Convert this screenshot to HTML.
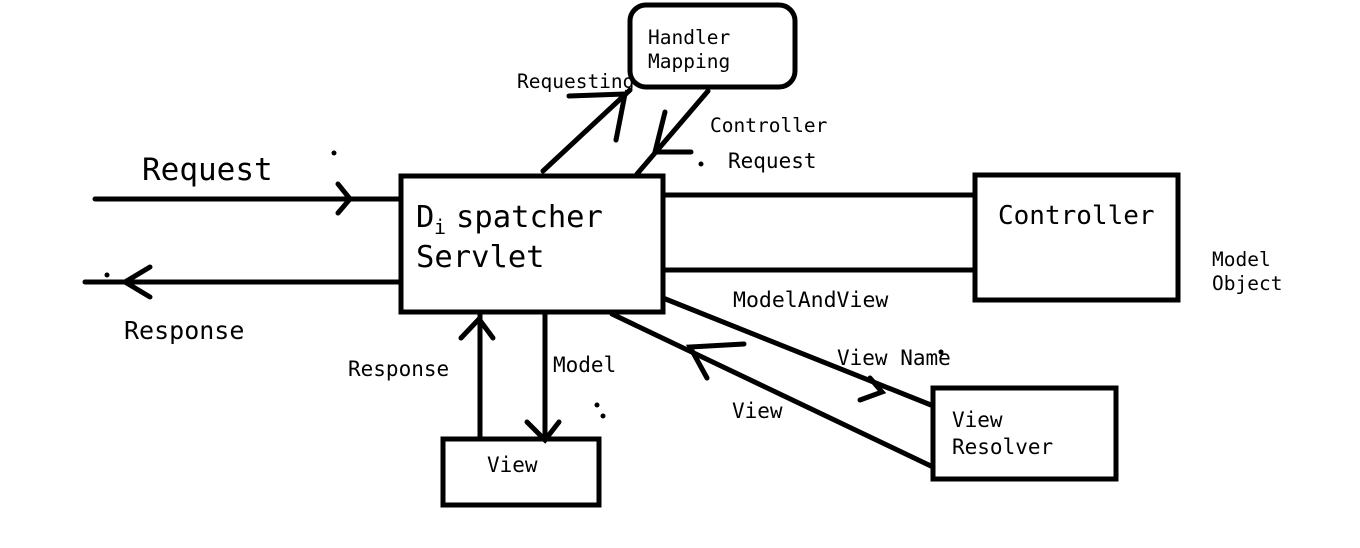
<!DOCTYPE html>
<html><head><meta charset="utf-8"><style>
html,body{margin:0;padding:0;background:#fff;}
svg{display:block;}
text{font-family:"DejaVu Sans Mono","Liberation Mono",monospace;fill:#000;}
</style></head><body>
<svg width="1360" height="548" viewBox="0 0 1360 548" xmlns="http://www.w3.org/2000/svg">
<g fill="none" stroke="#000" stroke-width="5" stroke-linecap="round">
<rect x="401" y="176" width="262" height="136"/>
<rect x="630" y="5" width="165" height="82" rx="16"/>
<rect x="975" y="175" width="203" height="125"/>
<rect x="443" y="439" width="156" height="66"/>
<rect x="933" y="388" width="183" height="91"/>
<line x1="95" y1="199" x2="401" y2="199"/>
<polyline points="338,184 350,199 338,213"/>
<line x1="85" y1="282" x2="401" y2="282"/>
<polyline points="150,267 125,282 150,297"/>
<line x1="663" y1="195" x2="975" y2="195"/>
<line x1="663" y1="270" x2="975" y2="270"/>
<line x1="543" y1="171" x2="630" y2="90"/>
<polyline points="569,96 625,94 616,140"/>
<line x1="708" y1="91" x2="637" y2="174"/>
<polyline points="665,112 655,152 691,152"/>
<line x1="663" y1="298" x2="931" y2="405"/>
<polyline points="870,378 882,392 860,400"/>
<line x1="612" y1="314" x2="933" y2="467"/>
<polyline points="744,344 690,347 707,378"/>
<line x1="480" y1="438" x2="480" y2="314"/>
<polyline points="461,338 479,319 493,338"/>
<line x1="545" y1="312" x2="545" y2="440"/>
<polyline points="527,422 545,440 559,422"/>
</g>
<g fill="#000">
<circle cx="334" cy="153" r="2.5"/>
<circle cx="107" cy="275" r="2.5"/>
<circle cx="701" cy="164" r="2.5"/>
<circle cx="597" cy="405" r="2.5"/>
<circle cx="603" cy="416" r="2.5"/>
<circle cx="941" cy="352" r="2.5"/>
</g>
<text x="142" y="180" font-size="31">Request</text>
<text x="416" y="227" font-size="30.5">D</text>
<text x="434" y="234" font-size="20">i</text>
<text x="456" y="227" font-size="30.5">spatcher</text>
<text x="416" y="267" font-size="30.5">Servlet</text>
<text x="124" y="339" font-size="25">Response</text>
<text x="648" y="44" font-size="19.5">Handler</text>
<text x="648" y="68" font-size="19.5">Mapping</text>
<text x="517" y="88" font-size="19.5">Requesting</text>
<text x="710" y="132" font-size="19.5">Controller</text>
<text x="728" y="168" font-size="21">Request</text>
<text x="998" y="224" font-size="26">Controller</text>
<text x="1212" y="266" font-size="19.5">Model</text>
<text x="1212" y="290" font-size="19.5">Object</text>
<text x="733" y="307" font-size="21.5">ModelAndView</text>
<text x="837" y="365" font-size="21">View Name</text>
<text x="732" y="418" font-size="21">View</text>
<text x="952" y="427" font-size="21">View</text>
<text x="952" y="454" font-size="21">Resolver</text>
<text x="348" y="376" font-size="21">Response</text>
<text x="553" y="372" font-size="21">Model</text>
<text x="487" y="472" font-size="21">View</text>
</svg>
</body></html>
